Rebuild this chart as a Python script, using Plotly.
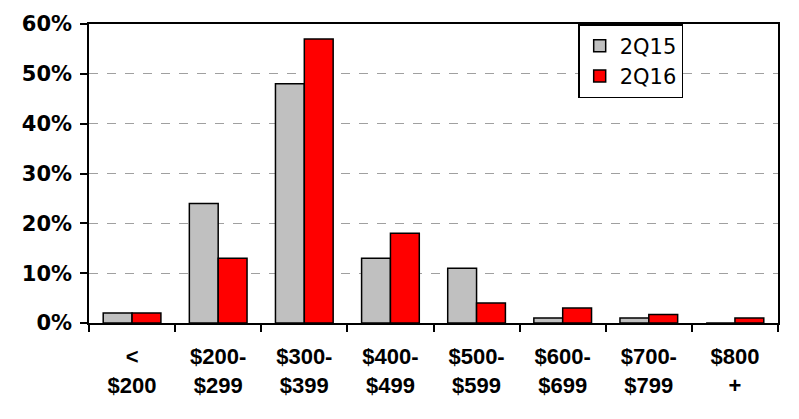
import plotly.graph_objects as go

# price bands on the x axis
bandas = ["&lt;<br>$200", "$200-<br>$299", "$300-<br>$399", "$400-<br>$499",
          "$500-<br>$599", "$600-<br>$699", "$700-<br>$799", "$800<br>+"]

# share of units per band
q2_15 = [0.02, 0.24, 0.48, 0.13, 0.11, 0.01, 0.01, 0.0]
q2_16 = [0.02, 0.13, 0.57, 0.18, 0.04, 0.03, 0.017, 0.01]

y_ticks = [0, 0.1, 0.2, 0.3, 0.4, 0.5, 0.6]
y_labels = ["0%", "10%", "20%", "30%", "40%", "50%", "60%"]

fig = go.Figure()
fig.add_trace(go.Bar(x=bandas, y=q2_15, name="2Q15",
                     marker=dict(color="#c0c0c0", line=dict(color="black", width=1.5))))
fig.add_trace(go.Bar(x=bandas, y=q2_16, name="2Q16",
                     marker=dict(color="#ff0000", line=dict(color="black", width=1.5))))

# the page adds 8px of body margin, so the figure is a bit smaller than the window
fig.update_layout(
    width=791, height=411,
    margin=dict(l=81, r=21, t=16, b=96, autoexpand=False),
    plot_bgcolor="white", paper_bgcolor="white",
    barmode="group", bargap=0.33, bargroupgap=0,
    showlegend=True,
    legend=dict(x=0.71, y=1, xanchor="left", yanchor="top",
                bgcolor="white", bordercolor="black", borderwidth=1.5,
                font=dict(family="DejaVu Sans", size=21, color="black")),
)

fig.update_xaxes(
    automargin=False,
    showline=True, linecolor="black", linewidth=1.5, mirror=True,
    ticks="outside", ticklen=7, tickwidth=1.5, tickcolor="black",
    tickson="boundaries", showgrid=False, ticklabelstandoff=13,
    tickfont=dict(family="Liberation Sans", size=22, color="black", weight="bold"),
)
fig.update_yaxes(
    automargin=False,
    range=[0, 0.6], tickvals=y_ticks, ticktext=y_labels,
    showline=True, linecolor="black", linewidth=1.5, mirror=True,
    ticks="outside", ticklen=7, tickwidth=1.5, tickcolor="black",
    showgrid=True, gridcolor="#a0a0a0", gridwidth=1, griddash="dash",
    zeroline=False, ticklabelstandoff=4,
    tickfont=dict(family="DejaVu Sans", size=21, color="black", weight="bold"),
)

fig.write_html("out.html")
